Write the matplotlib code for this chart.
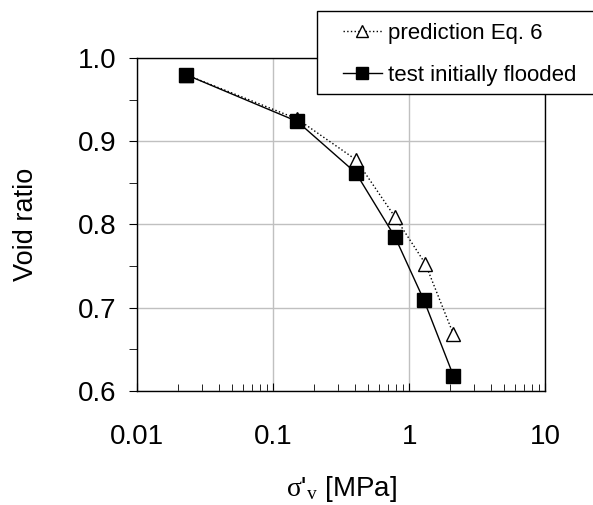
import matplotlib
matplotlib.use("Agg")
import matplotlib.pyplot as plt
from matplotlib.patches import Rectangle
from matplotlib.ticker import FixedLocator, LogLocator, NullFormatter

plt.rcParams["font.family"] = ["Liberation Sans", "DejaVu Sans"]
plt.rcParams["mathtext.fontset"] = "custom"
plt.rcParams["mathtext.rm"] = "Liberation Serif"
plt.rcParams["mathtext.it"] = "Liberation Serif:italic"

# Tensiones verticales efectivas [MPa]
stress_pred = [0.023, 0.15, 0.405, 0.785, 1.31, 2.11]
stress_test = [0.023, 0.15, 0.405, 0.785, 1.28, 2.11]
# Indice de vacios
void_pred = [0.980, 0.927, 0.878, 0.809, 0.753, 0.668]
void_test = [0.980, 0.924, 0.862, 0.785, 0.709, 0.618]

x_ticks = [0.01, 0.1, 1, 10]
x_tick_labels = ["0.01", "0.1", "1", "10"]
y_ticks = [0.6, 0.7, 0.8, 0.9, 1.0]
y_tick_labels = ["0.6", "0.7", "0.8", "0.9", "1.0"]

fig = plt.figure(figsize=(5.93, 5.05), dpi=100)
ax = fig.add_axes([0.2315, 0.2263, 0.6881, 0.6583])

l1, = ax.plot(stress_pred, void_pred, linestyle=":", color="black", linewidth=1,
              marker="^", markersize=10, markerfacecolor="white",
              markeredgecolor="black", markeredgewidth=1, zorder=3)
l2, = ax.plot(stress_test, void_test, linestyle="-", color="black", linewidth=1,
              marker="s", markersize=10, markerfacecolor="black",
              markeredgecolor="black", zorder=4)

ax.set_xscale("log")
ax.set_xlim(0.01, 10)
ax.set_ylim(0.6, 1.0)
ax.xaxis.set_major_locator(FixedLocator(x_ticks))
ax.set_xticklabels(x_tick_labels)
ax.xaxis.set_minor_locator(LogLocator(base=10, subs=range(2, 10)))
ax.xaxis.set_minor_formatter(NullFormatter())
ax.set_yticks(y_ticks)
ax.set_yticklabels(y_tick_labels)
ax.yaxis.set_minor_locator(FixedLocator([0.65, 0.75, 0.85, 0.95]))

ax.grid(True, which="major", color="#c0c0c0", linewidth=1)
ax.set_axisbelow(True)

ax.tick_params(axis="x", which="both", direction="in", labelsize=20, pad=24)
ax.tick_params(axis="x", which="major", length=6)
ax.tick_params(axis="x", which="minor", length=5)
ax.tick_params(axis="y", which="both", direction="out", length=6, labelsize=20, pad=9)

for s in ax.spines.values():
    s.set_linewidth(1)

ax.set_xlabel(r"$\mathrm{σ}$'$_\mathrm{v}$ [MPa]", fontsize=20, labelpad=17)
ax.set_ylabel("Void ratio", fontsize=19.5, labelpad=28)

# marco de la leyenda (se corta en el borde derecho como en el original)
fig.patches.append(Rectangle((317 / 593, 1 - 94 / 505), 300 / 593, 83 / 505,
                             transform=fig.transFigure, facecolor="white",
                             edgecolor="black", linewidth=1, zorder=5))

leg = fig.legend([l1, l2], ["prediction Eq. 6", "test initially flooded"],
                 loc="upper left", bbox_to_anchor=(336 / 593, 1 - 16 / 505),
                 bbox_transform=fig.transFigure, fontsize=16, frameon=False,
                 borderaxespad=0, handlelength=1.75, handletextpad=0.3,
                 borderpad=0.3, labelspacing=0.95, markerscale=0.8)
leg.set_zorder(6)

fig.savefig("out.png", dpi=100)
